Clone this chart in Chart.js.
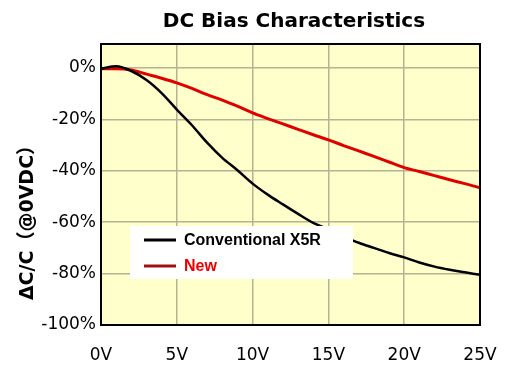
<!DOCTYPE html>
<html>
<head>
<meta charset="utf-8">
<script src="https://cdn.jsdelivr.net/npm/chart.js@4"></script>
<style>
  html, body { margin: 0; padding: 0; background: #fff; }
  #wrap { width: 509px; height: 382px; }
</style>
</head>
<body>
<div id="wrap"><canvas id="myChart" width="509" height="382"></canvas></div>
<script>
// values
var volts = [0, 1, 2, 3, 4, 5, 6, 7, 8, 9, 10, 11, 12, 13, 14, 15, 16, 17, 18, 19, 20, 21, 22, 23, 24, 25];
var conventional = [-0.3, 0.6, -1.2, -4.7, -9.8, -16.2, -22.3, -29.1, -35, -39.8, -45, -49.3, -53.1, -56.8, -60.3, -62.8, -65.5, -68, -70, -72, -73.7, -75.7, -77.3, -78.5, -79.5, -80.5];
var newType = [-0.3, -0.3, -0.8, -2.4, -4, -5.8, -8, -10.4, -12.5, -14.9, -17.5, -19.7, -21.8, -23.9, -26, -28, -30.2, -32.3, -34.4, -36.6, -38.8, -40.3, -41.9, -43.5, -45, -46.6];
var xTicks = [0, 5, 10, 15, 20, 25];
var yTicks = [0, -20, -40, -60, -80, -100];
var seriesNames = ['Conventional X5R', 'New'];
var chartTitle = 'DC Bias Characteristics';
var yTitle = 'ΔC/C（@0VDC）';

function pts(ys) {
    return volts.map(function (v, i) { return { x: v, y: ys[i] }; });
}

// yellow plot background + frame
var plotBox = {
    id: 'plotBox',
    beforeDraw: function (chart) {
        var a = chart.chartArea, ctx = chart.ctx;
        ctx.save();
        ctx.fillStyle = '#ffffcc';
        ctx.fillRect(a.left, a.top, a.right - a.left, a.bottom - a.top);
        ctx.restore();
    },
    afterDraw: function (chart) {
        var a = chart.chartArea, ctx = chart.ctx;
        ctx.save();
        ctx.strokeStyle = '#000';
        ctx.lineWidth = 2;
        ctx.strokeRect(a.left, a.top, a.right - a.left, a.bottom - a.top);

        // title
        ctx.fillStyle = '#000';
        ctx.font = 'bold 20px "DejaVu Sans"';
        ctx.textAlign = 'center';
        ctx.textBaseline = 'middle';
        ctx.fillText(chartTitle, 294, 22);

        // y axis title
        ctx.translate(28, 218);
        ctx.rotate(-Math.PI / 2);
        ctx.font = 'bold 19px "DejaVu Sans", "Noto Sans CJK JP"';
        ctx.fillText(yTitle, 0, 0);
        ctx.restore();
    }
};

// legend box inside the plot
var boxLegend = {
    id: 'boxLegend',
    afterDatasetsDraw: function (chart) {
        var ctx = chart.ctx;
        ctx.save();
        ctx.fillStyle = '#fff';
        ctx.fillRect(130, 226, 223, 53);
        var textColors = ['#000', '#ee0000'];
        var lineColors = ['#000', '#a01010'];
        chart.data.datasets.forEach(function (ds, i) {
            var y = 240 + i * 26;
            ctx.strokeStyle = lineColors[i];
            ctx.lineWidth = 3;
            ctx.beginPath();
            ctx.moveTo(144, y);
            ctx.lineTo(176, y);
            ctx.stroke();
            ctx.fillStyle = textColors[i];
            ctx.font = 'bold 16px "Liberation Sans"';
            ctx.textAlign = 'left';
            ctx.textBaseline = 'middle';
            ctx.fillText(ds.label, 184, y + 1);
        });
        ctx.restore();
    }
};

var ctx = document.getElementById('myChart').getContext('2d');
var myChart = new Chart(ctx, {
    type: 'line',
    data: {
        datasets: [{
            label: seriesNames[0],
            data: pts(conventional),
            borderColor: '#000',
            borderWidth: 2.5,
            pointRadius: 0,
            cubicInterpolationMode: 'monotone',
            order: 1
        }, {
            label: seriesNames[1],
            data: pts(newType),
            borderColor: '#e00000',
            borderWidth: 3,
            pointRadius: 0,
            cubicInterpolationMode: 'monotone',
            order: 2
        }]
    },
    options: {
        responsive: false,
        animation: false,
        layout: { padding: { top: 44, right: 29, left: 0, bottom: 0 } },
        plugins: {
            legend: { display: false },
            tooltip: { enabled: false }
        },
        scales: {
            x: {
                type: 'linear',
                min: 0,
                max: 25,
                afterBuildTicks: function (s) { s.ticks = xTicks.map(function (v) { return { value: v }; }); },
                afterFit: function (s) { s.height = 57; s.paddingLeft = 0; s.paddingRight = 0; },
                grid: { color: '#b4b494', lineWidth: 1.5, drawTicks: false },
                border: { display: false },
                ticks: {
                    padding: 20,
                    color: '#000',
                    font: { family: 'DejaVu Sans', size: 17 },
                    maxRotation: 0,
                    callback: function (v) { return v + 'V'; }
                }
            },
            y: {
                min: -100,
                max: 9.3,
                afterBuildTicks: function (s) { s.ticks = yTicks.map(function (v) { return { value: v }; }); },
                afterFit: function (s) { s.width = 101; s.paddingTop = 0; s.paddingBottom = 0; },
                grid: { color: '#b4b494', lineWidth: 1.5, drawTicks: false },
                border: { display: false },
                ticks: {
                    padding: 5,
                    color: '#000',
                    font: { family: 'DejaVu Sans', size: 17 },
                    callback: function (v) { return v + '%'; }
                }
            }
        }
    },
    plugins: [plotBox, boxLegend]
});
</script>
</body>
</html>
